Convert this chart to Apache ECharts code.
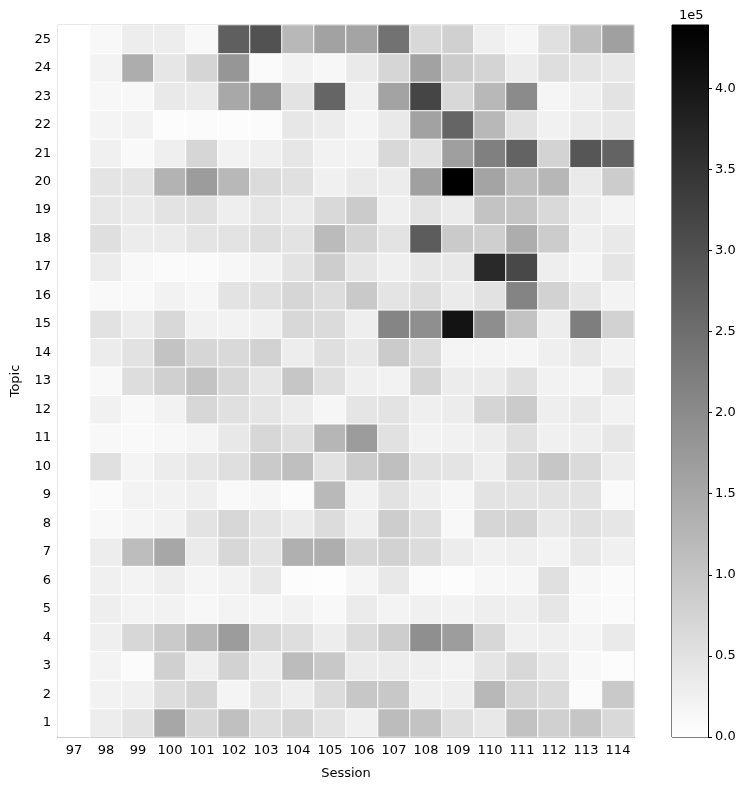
<!DOCTYPE html>
<html>
<head>
<meta charset="utf-8">
<script src="https://cdn.jsdelivr.net/npm/echarts@6/dist/echarts.min.js"></script>
<style>
  html, body { margin: 0; padding: 0; background: #fff; }
  #chart { width: 748px; height: 790px; }
</style>
</head>
<body>
<div id="chart"></div>
<script>
const sessions = ['97', '98', '99', '100', '101', '102', '103', '104', '105', '106', '107', '108', '109', '110', '111', '112', '113', '114']
const topics = ['1', '2', '3', '4', '5', '6', '7', '8', '9', '10', '11', '12', '13', '14', '15', '16', '17', '18', '19', '20', '21', '22', '23', '24', '25']

// one row per topic (1..25), one value per session (97..114)
const topicRows = [
  [0, 31000, 48000, 151000, 69000, 108000, 57000, 74000, 48000, 26000, 115000, 103000, 55000, 40000, 105000, 81000, 98000, 65000],
  [0, 22000, 26000, 58000, 72000, 19000, 43000, 29000, 60000, 96000, 95000, 28000, 29000, 122000, 72000, 64000, 7000, 93000],
  [0, 21000, 7000, 81000, 28000, 77000, 33000, 115000, 95000, 34000, 34000, 28000, 21000, 45000, 67000, 40000, 12000, 5000],
  [0, 28000, 69000, 91000, 122000, 170000, 69000, 57000, 31000, 62000, 86000, 193000, 168000, 69000, 26000, 28000, 19000, 36000],
  [0, 29000, 21000, 22000, 14000, 21000, 17000, 22000, 12000, 34000, 21000, 26000, 22000, 29000, 28000, 43000, 12000, 9000],
  [0, 26000, 21000, 29000, 17000, 22000, 40000, 5000, 3000, 17000, 40000, 9000, 5000, 14000, 15000, 53000, 14000, 9000],
  [0, 31000, 114000, 151000, 34000, 69000, 46000, 136000, 139000, 69000, 77000, 60000, 33000, 24000, 28000, 21000, 40000, 26000],
  [0, 12000, 17000, 22000, 48000, 69000, 46000, 34000, 60000, 28000, 86000, 55000, 12000, 71000, 76000, 40000, 53000, 43000],
  [0, 9000, 21000, 22000, 28000, 10000, 15000, 7000, 120000, 22000, 50000, 28000, 15000, 48000, 48000, 48000, 48000, 9000],
  [0, 53000, 19000, 33000, 43000, 55000, 91000, 110000, 50000, 88000, 110000, 50000, 46000, 29000, 69000, 98000, 64000, 31000],
  [0, 12000, 10000, 14000, 19000, 40000, 69000, 55000, 126000, 170000, 52000, 22000, 24000, 31000, 53000, 26000, 29000, 41000],
  [0, 24000, 12000, 22000, 69000, 53000, 45000, 33000, 15000, 45000, 48000, 28000, 33000, 72000, 90000, 29000, 36000, 22000],
  [0, 12000, 58000, 81000, 103000, 69000, 43000, 98000, 55000, 28000, 22000, 72000, 33000, 34000, 53000, 22000, 19000, 43000],
  [0, 33000, 50000, 103000, 71000, 65000, 77000, 31000, 55000, 40000, 90000, 60000, 19000, 19000, 17000, 28000, 40000, 22000],
  [0, 50000, 33000, 67000, 24000, 22000, 26000, 67000, 62000, 29000, 210000, 193000, 406000, 194000, 103000, 31000, 222000, 77000],
  [0, 10000, 10000, 22000, 15000, 48000, 53000, 71000, 58000, 93000, 46000, 58000, 34000, 50000, 212000, 77000, 43000, 21000],
  [0, 33000, 12000, 9000, 9000, 14000, 22000, 48000, 86000, 43000, 28000, 41000, 40000, 368000, 315000, 29000, 19000, 45000],
  [0, 55000, 33000, 34000, 46000, 48000, 57000, 48000, 117000, 74000, 48000, 281000, 91000, 83000, 141000, 88000, 28000, 38000],
  [0, 41000, 36000, 48000, 53000, 29000, 43000, 34000, 65000, 90000, 28000, 48000, 34000, 103000, 100000, 65000, 31000, 21000],
  [0, 46000, 46000, 131000, 170000, 122000, 62000, 53000, 26000, 36000, 33000, 163000, 439000, 157000, 112000, 124000, 36000, 88000],
  [0, 26000, 10000, 28000, 71000, 22000, 28000, 43000, 22000, 22000, 67000, 50000, 165000, 218000, 268000, 76000, 291000, 268000],
  [0, 19000, 22000, 5000, 7000, 5000, 7000, 41000, 33000, 19000, 38000, 160000, 265000, 122000, 50000, 24000, 34000, 40000],
  [0, 14000, 12000, 38000, 36000, 150000, 181000, 48000, 265000, 26000, 158000, 320000, 67000, 122000, 200000, 17000, 28000, 48000],
  [0, 21000, 141000, 43000, 72000, 181000, 9000, 22000, 14000, 36000, 71000, 160000, 88000, 74000, 33000, 57000, 46000, 40000],
  [0, 12000, 31000, 31000, 12000, 275000, 298000, 122000, 160000, 157000, 243000, 67000, 81000, 28000, 15000, 53000, 108000, 163000]
]

const colorMax = 439000
const colorTickStep = 50000

const cells = []
topicRows.forEach((row, t) => {
  row.forEach((v, s) => cells.push([s, t, v]))
})

const font = 'DejaVu Sans'
const axisText = { color: '#000', fontFamily: font, fontSize: 13 }

const chart = echarts.init(document.getElementById('chart'), null, { renderer: 'canvas' })

chart.setOption({
  animation: false,
  backgroundColor: '#fff',
  textStyle: { fontFamily: font },
  grid: [
    { left: 58, right: 114, top: 25, bottom: 53, show: true, borderColor: '#000', borderWidth: 1 },
    { left: 672, right: 40, top: 25, bottom: 53, show: true, borderColor: '#000', borderWidth: 1 }
  ],
  xAxis: [
    {
      type: 'category',
      gridIndex: 0,
      data: sessions,
      name: 'Session',
      nameLocation: 'middle',
      nameGap: 30,
      nameTextStyle: axisText,
      axisLine: { lineStyle: { color: '#000' } },
      axisTick: { alignWithLabel: true, length: 4, lineStyle: { color: '#000' } },
      axisLabel: { ...axisText, margin: 7, interval: 0 },
      splitLine: { show: false }
    },
    {
      type: 'category',
      gridIndex: 1,
      data: ['c'],
      show: false
    }
  ],
  yAxis: [
    {
      type: 'category',
      gridIndex: 0,
      data: topics,
      name: 'Topic',
      nameLocation: 'middle',
      nameGap: 36,
      nameTextStyle: axisText,
      axisLine: { lineStyle: { color: '#000' } },
      axisTick: { alignWithLabel: true, length: 4, lineStyle: { color: '#000' } },
      axisLabel: { ...axisText, margin: 7, interval: 0 },
      splitLine: { show: false }
    },
    {
      type: 'value',
      gridIndex: 1,
      position: 'right',
      min: 0,
      max: colorMax,
      interval: colorTickStep,
      axisLine: { show: true, lineStyle: { color: '#000' } },
      axisTick: { show: true, length: 4, lineStyle: { color: '#000' } },
      axisLabel: {
        ...axisText,
        margin: 7,
        showMaxLabel: false,
        formatter: v => (v / 100000).toFixed(1)
      },
      splitLine: { show: false }
    }
  ],
  visualMap: {
    show: false,
    type: 'continuous',
    seriesIndex: 0,
    min: 0,
    max: colorMax,
    inRange: { color: ['#ffffff', '#000000'] }
  },
  graphic: [
    {
      type: 'text',
      left: 679,
      top: 9,
      style: { text: '1e5', fill: '#000', font: '13px "DejaVu Sans"' }
    }
  ],
  series: [
    {
      type: 'heatmap',
      xAxisIndex: 0,
      yAxisIndex: 0,
      data: cells,
      itemStyle: { borderColor: '#ffffff', borderWidth: 1 },
      emphasis: { disabled: true }
    },
    {
      type: 'bar',
      xAxisIndex: 1,
      yAxisIndex: 1,
      data: [colorMax],
      barWidth: '100%',
      silent: true,
      itemStyle: {
        color: new echarts.graphic.LinearGradient(0, 0, 0, 1, [
          { offset: 0, color: '#000000' },
          { offset: 1, color: '#ffffff' }
        ])
      }
    }
  ]
})
</script>
</body>
</html>
